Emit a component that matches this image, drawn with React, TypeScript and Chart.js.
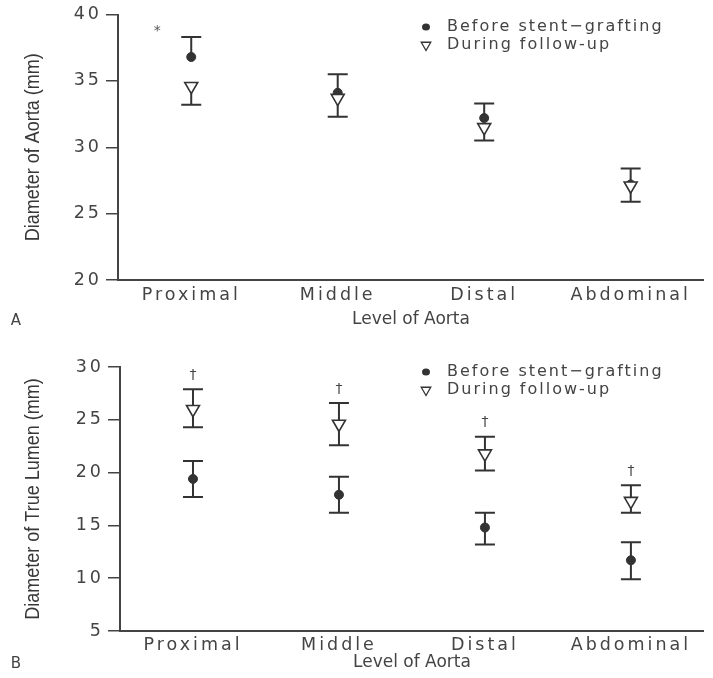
import React, { useEffect, useRef } from 'react';
import { Chart, registerables } from 'chart.js';

Chart.register(...registerables);

// ---------- data ----------
const levels = ['Proximal', 'Middle', 'Distal', 'Abdominal'];
const seriesNames = ['Before stent\u2212grafting', 'During follow-up'];
const xAxisTitle = 'Level of Aorta';

// Panel A – diameter of aorta (mm)
const aortaTitle = 'Diameter of Aorta (mm)';
const aortaRange = [20, 40];
const aortaStep = 5;
const aortaBefore = [36.8, 34.1, 32.2, 27.2];
const aortaBeforeUpper = [38.3, 35.5, 33.3, 28.4];
const aortaDuring = [34.6, 33.7, 31.5, 27.1];
const aortaDuringLower = [33.2, 32.3, 30.5, 25.9];
const aortaMarkText = '*';
const aortaMarkLevel = 0;
const aortaMarkValue = 38.9;

// Panel B – diameter of true lumen (mm)
const lumenTitle = 'Diameter of True Lumen (mm)';
const lumenRange = [5, 30];
const lumenStep = 5;
const lumenBefore = [19.4, 17.9, 14.8, 11.7];
const lumenBeforeUpper = [21.1, 19.6, 16.2, 13.4];
const lumenBeforeLower = [17.7, 16.2, 13.2, 9.9];
const lumenDuring = [26.0, 24.6, 21.8, 17.3];
const lumenDuringUpper = [27.9, 26.6, 23.4, 18.8];
const lumenDuringLower = [24.3, 22.6, 20.2, 16.2];
const lumenMarks = ['\u2020', '\u2020', '\u2020', '\u2020'];

// ---------- styling ----------
const INK = '#333333';
const TXT = '#444444';
const FONT = '"DejaVu Sans", sans-serif';
const TITLE_FONT = '"Liberation Sans", Arial, sans-serif';

function triPath(ctx: CanvasRenderingContext2D, x: number, y: number, r: number) {
  ctx.beginPath();
  ctx.moveTo(x - r * 0.866, y - r * 0.5);
  ctx.lineTo(x + r * 0.866, y - r * 0.5);
  ctx.lineTo(x, y + r);
  ctx.closePath();
}

type PanelCfg = {
  height: number;
  padTop: number;
  yWidth: number;
  xHeight: number;
  xTickPad: number;
  range: number[];
  step: number;
  yTitle: string;
  letter: string;
  legendX: number;
  legendY: number;
  titleOffset: number;
  before: number[];
  beforeLow: number[];
  beforeHigh: number[];
  during: number[];
  duringLow: number[];
  duringHigh: number[];
  marks: (chart: any, ctx: CanvasRenderingContext2D) => void;
};

function makeChart(canvas: HTMLCanvasElement, p: PanelCfg) {
  const panelPlugin = {
    id: 'panelPlugin',
    beforeDraw(chart: any) {
      const ctx = chart.ctx as any;
      ctx.fillStyle = '#ffffff';
      ctx.fillRect(0, 0, chart.width, chart.height);
      ctx.letterSpacing = '3px';
    },
    beforeDatasetsDraw(chart: any) {
      const ctx = chart.ctx as CanvasRenderingContext2D;
      const ys = chart.scales.y;
      ctx.save();
      ctx.strokeStyle = INK;
      ctx.lineWidth = 2;
      chart.data.datasets.forEach((ds: any, di: number) => {
        const meta = chart.getDatasetMeta(di);
        ds.data.forEach((v: number, i: number) => {
          const x = meta.data[i].x;
          const lo = ds.errLow[i];
          const hi = ds.errHigh[i];
          const y0 = ys.getPixelForValue(lo);
          const y1 = ys.getPixelForValue(hi);
          ctx.beginPath();
          ctx.moveTo(x, y0);
          ctx.lineTo(x, y1);
          if (lo !== v) {
            ctx.moveTo(x - 10, y0);
            ctx.lineTo(x + 10, y0);
          }
          if (hi !== v) {
            ctx.moveTo(x - 10, y1);
            ctx.lineTo(x + 10, y1);
          }
          ctx.stroke();
        });
      });
      ctx.restore();
    },
    afterDraw(chart: any) {
      const ctx = chart.ctx as any;
      const ca = chart.chartArea;
      ctx.save();
      ctx.fillStyle = TXT;
      ctx.textBaseline = 'middle';

      // x title
      ctx.letterSpacing = '0px';
      ctx.font = `17px ${FONT}`;
      ctx.textAlign = 'center';
      ctx.fillText(xAxisTitle, (ca.left + ca.right) / 2, ca.bottom + p.titleOffset);

      // panel letter
      ctx.font = `15px ${FONT}`;
      ctx.fillText(p.letter, 16, ca.bottom + p.titleOffset + 1);

      // y title (condensed look)
      ctx.save();
      ctx.translate(33, (ca.top + ca.bottom) / 2);
      ctx.rotate(-Math.PI / 2);
      ctx.scale(0.9, 1);
      ctx.fillStyle = '#383838';
      ctx.font = `20px ${TITLE_FONT}`;
      ctx.fillText(p.yTitle, 0, 0);
      ctx.restore();

      // legend
      ctx.letterSpacing = '2px';
      ctx.font = `16px ${FONT}`;
      ctx.textAlign = 'left';
      const lx = p.legendX;
      const ly = p.legendY;
      ctx.fillStyle = INK;
      ctx.beginPath();
      ctx.ellipse(lx, ly, 4, 3.5, 0, 0, Math.PI * 2);
      ctx.fill();
      ctx.strokeStyle = INK;
      ctx.lineWidth = 1.3;
      triPath(ctx, lx, ly + 18, 5.5);
      ctx.stroke();
      ctx.fillStyle = TXT;
      ctx.fillText(seriesNames[0], lx + 21, ly);
      ctx.fillText(seriesNames[1], lx + 21, ly + 18);

      // significance marks
      ctx.letterSpacing = '0px';
      p.marks(chart, ctx);
      ctx.restore();
    },
  };

  return new Chart(canvas, {
    type: 'line',
    data: {
      labels: levels,
      datasets: [
        {
          label: seriesNames[0],
          data: p.before,
          errLow: p.beforeLow,
          errHigh: p.beforeHigh,
          showLine: false,
          pointStyle: 'circle',
          pointRadius: 4.5,
          pointBackgroundColor: INK,
          pointBorderColor: INK,
          pointBorderWidth: 1,
          order: 1,
        } as any,
        {
          label: seriesNames[1],
          data: p.during,
          errLow: p.duringLow,
          errHigh: p.duringHigh,
          showLine: false,
          pointStyle: 'triangle',
          pointRotation: 180,
          pointRadius: 7.5,
          pointBackgroundColor: '#ffffff',
          pointBorderColor: INK,
          pointBorderWidth: 1.6,
          order: 0,
        } as any,
      ],
    },
    options: {
      animation: false,
      responsive: false,
      maintainAspectRatio: false,
      events: [],
      layout: { padding: { top: p.padTop, left: 0, right: 3, bottom: 0 } },
      plugins: {
        legend: { display: false },
        tooltip: { enabled: false },
        title: { display: false },
      },
      scales: {
        x: {
          type: 'category',
          offset: true,
          grid: { display: false, drawTicks: false },
          border: { display: true, color: '#444', width: 2 },
          ticks: {
            color: TXT,
            font: { family: FONT, size: 17.5 },
            padding: p.xTickPad,
            maxRotation: 0,
            autoSkip: false,
          },
          afterFit: (s: any) => {
            s.height = p.xHeight;
          },
        },
        y: {
          type: 'linear',
          min: p.range[0],
          max: p.range[1],
          grid: {
            display: true,
            drawOnChartArea: false,
            drawTicks: true,
            tickLength: 12,
            color: '#444',
            lineWidth: 1.5,
          },
          border: { display: true, color: '#444', width: 2 },
          ticks: {
            stepSize: p.step,
            color: TXT,
            font: { family: FONT, size: 17.5 },
            padding: 4,
          },
          afterFit: (s: any) => {
            s.width = p.yWidth;
          },
        },
      },
    } as any,
    plugins: [panelPlugin],
  });
}

const panelA: PanelCfg = {
  height: 340,
  padTop: 14,
  yWidth: 118,
  xHeight: 60,
  xTickPad: 5,
  range: aortaRange,
  step: aortaStep,
  yTitle: aortaTitle,
  letter: 'A',
  legendX: 426,
  legendY: 27,
  titleOffset: 40,
  before: aortaBefore,
  beforeLow: aortaBefore,
  beforeHigh: aortaBeforeUpper,
  during: aortaDuring,
  duringLow: aortaDuringLower,
  duringHigh: aortaDuring,
  marks: (chart, ctx) => {
    const x = chart.scales.x.getPixelForValue(aortaMarkLevel) - 34;
    const y = chart.scales.y.getPixelForValue(aortaMarkValue);
    ctx.font = `14px ${FONT}`;
    ctx.textAlign = 'center';
    ctx.fillStyle = '#555';
    ctx.fillText(aortaMarkText, x, y + 2);
  },
};

const panelB: PanelCfg = {
  height: 338,
  padTop: 27,
  yWidth: 120,
  xHeight: 47,
  xTickPad: 4,
  range: lumenRange,
  step: lumenStep,
  yTitle: lumenTitle,
  letter: 'B',
  legendX: 426,
  legendY: 32,
  titleOffset: 32,
  before: lumenBefore,
  beforeLow: lumenBeforeLower,
  beforeHigh: lumenBeforeUpper,
  during: lumenDuring,
  duringLow: lumenDuringLower,
  duringHigh: lumenDuringUpper,
  marks: (chart, ctx) => {
    ctx.font = `14px ${FONT}`;
    ctx.textAlign = 'center';
    ctx.fillStyle = TXT;
    lumenMarks.forEach((m, i) => {
      const x = chart.scales.x.getPixelForValue(i);
      const y = chart.scales.y.getPixelForValue(lumenDuringUpper[i]) - 14;
      ctx.fillText(m, x, y);
    });
  },
};

export default function App() {
  const refA = useRef<HTMLCanvasElement | null>(null);
  const refB = useRef<HTMLCanvasElement | null>(null);

  useEffect(() => {
    const a = refA.current ? makeChart(refA.current, panelA) : null;
    const b = refB.current ? makeChart(refB.current, panelB) : null;
    return () => {
      a?.destroy();
      b?.destroy();
    };
  }, []);

  return (
    <div
      style={{
        position: 'absolute',
        left: 0,
        top: 0,
        width: 713,
        height: 678,
        background: '#ffffff',
      }}
    >
      <canvas
        ref={refA}
        width={713}
        height={panelA.height}
        style={{ position: 'absolute', left: 0, top: 0, width: 713, height: panelA.height }}
      />
      <canvas
        ref={refB}
        width={713}
        height={panelB.height}
        style={{ position: 'absolute', left: 0, top: panelA.height, width: 713, height: panelB.height }}
      />
    </div>
  );
}
